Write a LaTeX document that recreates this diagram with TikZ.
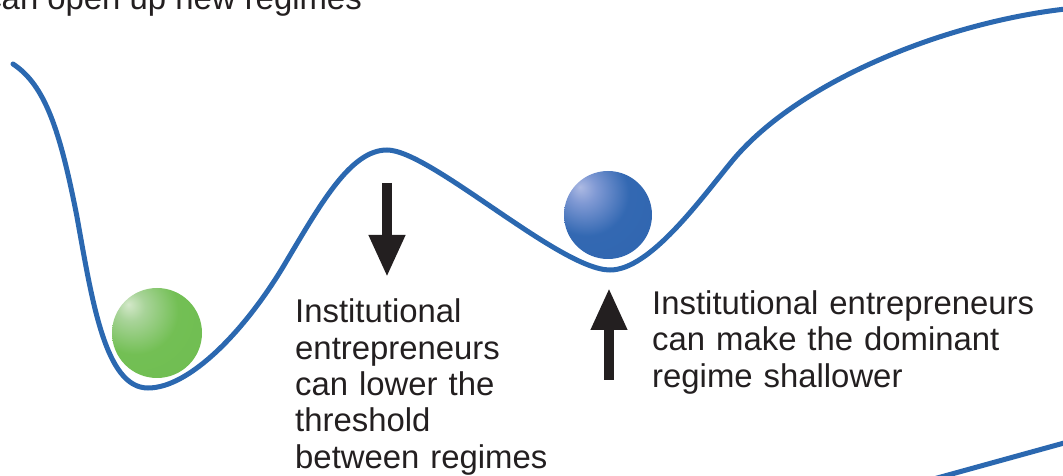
\documentclass[tikz,border=0pt]{standalone}
\usepackage{fontspec}
\setmainfont{Liberation Sans}
\usepackage{tikz}
\usetikzlibrary{positioning}
\usetikzlibrary{arrows.meta}
\definecolor{landblue}{RGB}{43,104,176}
\definecolor{inkdark}{RGB}{35,31,32}
\pgfdeclareradialshading{greenball}{\pgfpoint{-16bp}{16bp}}{rgb(0bp)=(0.83,0.91,0.79); rgb(8bp)=(0.66,0.83,0.60); rgb(24bp)=(0.45,0.75,0.33); rgb(100bp)=(0.40,0.72,0.29)}
\pgfdeclareradialshading{blueball}{\pgfpoint{-16bp}{16bp}}{rgb(0bp)=(0.68,0.73,0.89); rgb(8bp)=(0.50,0.60,0.83); rgb(24bp)=(0.20,0.41,0.70); rgb(100bp)=(0.16,0.37,0.66)}
\tikzset{my_landscape/.style={x=1bp,y=-1bp}}
\tikzset{my_curve/.style={draw=landblue, line width=5bp, line cap=round}}
\tikzset{my_ball/.style={circle, shade, minimum size=90bp, inner sep=0pt}}
\tikzset{my_arrow/.style={-{Triangle[length=42bp,width=34bp]}, line width=10bp, draw=inkdark}}
\tikzset{my_label/.style={anchor=base west, inner sep=0pt, text=inkdark, text width=420bp, align=left, font=\fontsize{33}{36.5}\selectfont}}

\begin{document}
\begin{tikzpicture}[my_landscape]
    \useasboundingbox (0,0) rectangle (1063,476);
    %\draw[help lines] (0,0) grid[step=50] (1063,476);
    \node[my_label, anchor=base east, text width=] (title) at (362,10) {can open up new regimes};

    % the landscape
    \draw[my_curve] (13,64)
        .. controls (45,85) and (60,130) .. (77,217)
        .. controls (92,300) and (105,388) .. (148,388)
        .. controls (190,388) and (245,330) .. (283,267)
        .. controls (320,205) and (350,150) .. (387,150)
        .. controls (430,150) and (560,270) .. (610,270)
        .. controls (650,270) and (700,200) .. (733,160)
        .. controls (800,80) and (950,20) .. (1075,8);
    \draw[my_curve] (930,480) -- (1075,440);

    \node[my_ball, shading=greenball] (green_ball) at (157,333) {};
    \node[my_ball, shading=blueball, minimum size=88bp] (blue_ball) at (608,215) {};

    \coordinate (lower_from) at (387,183);
    \coordinate (lower_to) at (387,277);
    \coordinate (shallow_from) at (609,380);
    \coordinate (shallow_to) at (609,288);
    \draw[my_arrow] (lower_from) -- (lower_to);
    \draw[my_arrow] (shallow_from) -- (shallow_to);

    \node[my_label] (lower) at (295,322.7)
        {Institutional\\entrepreneurs\\can lower the\\threshold\\between regimes};
    \node[my_label] (shallow) at (652,314.5)
        {Institutional entrepreneurs\\can make the dominant\\regime shallower};
\end{tikzpicture}
\end{document}
